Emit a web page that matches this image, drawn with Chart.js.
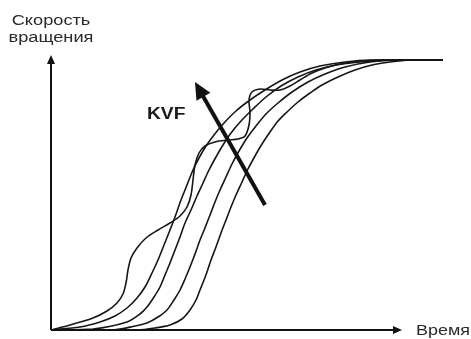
<!DOCTYPE html>
<html>
<head>
<meta charset="utf-8">
<script src="https://cdn.jsdelivr.net/npm/chart.js@4"></script>
<style>
  html, body { margin: 0; padding: 0; background: #fff; }
  canvas { display: block; }
</style>
</head>
<body>
<canvas id="myChart" width="471" height="339"></canvas>
<script>
// curve with the wobble (low KVF)
const timeA = [0, 19, 42, 56, 66, 72, 75, 77, 80, 86, 95, 107, 119, 129, 136, 140, 142, 144, 148, 154, 164, 177, 187, 194, 198, 199, 198, 201, 209, 219, 229, 239, 249, 261, 274, 289, 309, 334, 392];
const speedA = [0, 5, 12, 19, 27, 36, 47, 60, 72, 82, 92, 100, 107, 114, 123, 135, 150, 165, 177, 184, 188, 190, 191, 194, 205, 218, 230, 238, 241, 240, 240, 244, 250, 257, 262, 266, 269, 270, 270];

const timeB = [0, 29, 49, 64, 76, 86, 94, 101, 107, 113, 119, 124, 130, 136, 142, 148, 155, 163, 173, 185, 199, 214, 231, 249, 269, 294, 319, 392];
const speedB = [0, 3, 8, 14, 22, 32, 43, 57, 70, 85, 100, 113, 130, 145, 160, 172, 184, 195, 207, 219, 230, 240, 250, 258, 264, 268, 270, 270];

const timeC = [0, 42, 76, 89, 96, 103, 109, 114, 119, 124, 129, 134, 140, 146, 152, 158, 165, 172, 180, 190, 202, 215, 230, 247, 265, 285, 309, 339, 392];
const speedC = [0, 1, 8, 16, 23, 33, 43, 55, 67, 80, 93, 107, 120, 134, 147, 160, 173, 185, 197, 209, 221, 233, 244, 253, 260, 265, 268, 270, 270];

const timeD = [0, 62, 84, 96, 107, 116, 123, 129, 134, 139, 144, 149, 154, 159, 164, 169, 175, 181, 188, 196, 205, 215, 227, 241, 257, 274, 294, 319, 349, 392];
const speedD = [0, 0, 4, 7, 13, 20, 30, 40, 51, 63, 76, 90, 102, 115, 128, 140, 153, 166, 179, 192, 204, 216, 227, 238, 248, 256, 263, 268, 270, 270];

const timeE = [0, 86, 104, 119, 131, 139, 145, 149, 153, 156, 160, 165, 170, 175, 180, 185, 191, 197, 204, 211, 219, 227, 236, 247, 259, 271, 287, 304, 321, 339, 359, 392];
const speedE = [0, 0, 2, 5, 11, 20, 30, 40, 50, 58, 70, 83, 97, 110, 123, 135, 148, 161, 174, 186, 198, 209, 218, 228, 237, 245, 253, 260, 265, 268, 270, 270];

// axis ends and the KVF arrow (time, speed)
const axisEnds = { time: 351, speed: 275 };
const kvfFrom = [214, 125];
const kvfTo = [144, 248];

const toPoints = (xs, ys) => xs.map((x, i) => ({ x: x, y: ys[i] }));

const curve = (xs, ys) => ({
  data: toPoints(xs, ys),
  showLine: true,
  borderColor: "#161616",
  borderWidth: 1.6,
  pointRadius: 0,
  tension: 0.3,
  fill: false,
  clip: false,
});

const drawHead = (ctx, x1, y1, x2, y2, len, half) => {
  const a = Math.atan2(y2 - y1, x2 - x1);
  ctx.beginPath();
  ctx.moveTo(x2, y2);
  ctx.lineTo(x2 - len * Math.cos(a) + half * Math.sin(a), y2 - len * Math.sin(a) - half * Math.cos(a));
  ctx.lineTo(x2 - len * Math.cos(a) - half * Math.sin(a), y2 - len * Math.sin(a) + half * Math.cos(a));
  ctx.closePath();
  ctx.fill();
};

const stretchText = (ctx, text, x, y, sx, align) => {
  ctx.save();
  ctx.translate(x, y);
  ctx.scale(sx, 1);
  ctx.textAlign = align;
  ctx.fillText(text, 0, 0);
  ctx.restore();
};

const decorations = {
  id: "decorations",
  afterDatasetsDraw: (chart) => {
    const ctx = chart.ctx;
    const { x, y } = chart.scales;
    const ox = x.getPixelForValue(0);
    const oy = y.getPixelForValue(0);
    const ex = x.getPixelForValue(axisEnds.time);
    const ey = y.getPixelForValue(axisEnds.speed);

    ctx.save();
    ctx.strokeStyle = "#111";
    ctx.fillStyle = "#111";
    ctx.lineWidth = 2;
    ctx.beginPath();
    ctx.moveTo(ox, oy);
    ctx.lineTo(ox, ey + 6);
    ctx.moveTo(ox, oy);
    ctx.lineTo(ex - 6, oy);
    ctx.stroke();
    drawHead(ctx, ox, oy, ox, ey, 9, 4);
    drawHead(ctx, ox, oy, ex, oy, 9, 4);

    // KVF arrow
    const ax1 = x.getPixelForValue(kvfFrom[0]);
    const ay1 = y.getPixelForValue(kvfFrom[1]);
    const ax2 = x.getPixelForValue(kvfTo[0]);
    const ay2 = y.getPixelForValue(kvfTo[1]);
    const ang = Math.atan2(ay2 - ay1, ax2 - ax1);
    ctx.lineWidth = 4;
    ctx.beginPath();
    ctx.moveTo(ax1, ay1);
    ctx.lineTo(ax2 - 12 * Math.cos(ang), ay2 - 12 * Math.sin(ang));
    ctx.stroke();
    drawHead(ctx, ax1, ay1, ax2, ay2, 17, 8);

    // labels
    ctx.fillStyle = "#2a2a2a";
    ctx.textBaseline = "alphabetic";
    ctx.font = "14px 'Liberation Sans', Arial, sans-serif";
    stretchText(ctx, "Скорость", ox, 25, 1.3, "center");
    stretchText(ctx, "вращения", ox, 42, 1.3, "center");
    stretchText(ctx, "Время", ex + 14, oy + 5, 1.28, "left");
    ctx.fillStyle = "#1a1a1a";
    ctx.font = "bold 16px 'Liberation Sans', Arial, sans-serif";
    stretchText(ctx, "KVF", 147, 119, 1.2, "left");
    ctx.restore();
  },
};

new Chart(document.getElementById("myChart").getContext("2d"), {
  type: "scatter",
  data: {
    datasets: [
      curve(timeA, speedA),
      curve(timeB, speedB),
      curve(timeC, speedC),
      curve(timeD, speedD),
      curve(timeE, speedE),
    ],
  },
  options: {
    responsive: false,
    animation: false,
    layout: { padding: { left: 51, right: 0, top: 0, bottom: 9 } },
    scales: {
      x: { type: "linear", min: 0, max: 420, display: false },
      y: { type: "linear", min: 0, max: 330, display: false },
    },
    plugins: {
      legend: { display: false },
      tooltip: { enabled: false },
    },
  },
  plugins: [decorations],
});
</script>
</body>
</html>
